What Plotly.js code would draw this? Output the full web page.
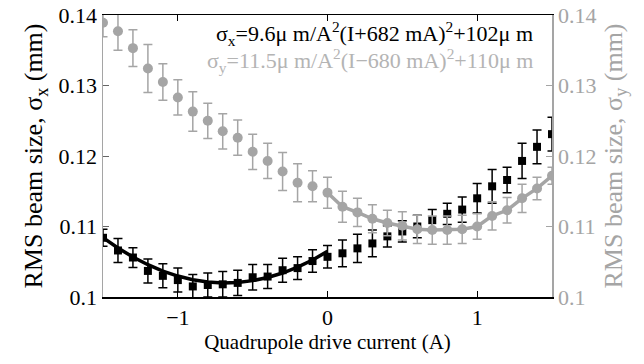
<!DOCTYPE html>
<html><head><meta charset="utf-8">
<script src="https://cdn.plot.ly/plotly-3.0.1.min.js"></script>
</head><body style="margin:0;background:#fff"><div id="chart"></div>
<script>
var currentA = [-1.5,-1.4,-1.3,-1.2,-1.1,-1.0,-0.9,-0.8,-0.7,-0.6,-0.5,-0.4,-0.3,-0.2,-0.1,0.0,0.1,0.2,0.3,0.4,0.5,0.6,0.7,0.8,0.9,1.0,1.1,1.2,1.3,1.4,1.5];
var sigmaX = [0.1084,0.1066,0.1056,0.1037,0.1030,0.1024,0.1015,0.1017,0.1018,0.1020,0.1028,0.1029,0.1038,0.1041,0.1051,0.1057,0.1062,0.1069,0.1076,0.1086,0.1093,0.1100,0.1109,0.1118,0.1124,0.1140,0.1157,0.1166,0.1193,0.1213,0.1231];
var sigmaXErr = [0.0012,0.0017,0.0014,0.0017,0.0017,0.0017,0.0017,0.0017,0.0018,0.0018,0.0018,0.0017,0.0017,0.0016,0.0016,0.0016,0.0019,0.0020,0.0019,0.0015,0.0015,0.0016,0.0015,0.0015,0.0018,0.0021,0.0024,0.0018,0.0025,0.0024,0.0024];
var sigmaY = [0.1389,0.1377,0.1353,0.1324,0.1305,0.1283,0.1263,0.1250,0.1235,0.1226,0.1206,0.1193,0.1178,0.1162,0.1157,0.1148,0.1128,0.1120,0.1111,0.1105,0.1101,0.1096,0.1095,0.1095,0.1096,0.1100,0.1115,0.1123,0.1140,0.1154,0.1172];
var sigmaYErr = [0.0020,0.0027,0.0026,0.0034,0.0026,0.0025,0.0028,0.0025,0.0025,0.0025,0.0025,0.0025,0.0027,0.0027,0.0022,0.0022,0.0022,0.0020,0.0020,0.0018,0.0020,0.0020,0.0020,0.0020,0.0020,0.0018,0.0020,0.0018,0.0020,0.0016,0.0012];
var fitXCurrent = [-1.5,-1.4,-1.3,-1.2,-1.1,-1.0,-0.9,-0.8,-0.7,-0.6,-0.5,-0.4,-0.3,-0.2,-0.1,0.0];
var fitXSigma = [0.10842,0.10695,0.10567,0.10458,0.10368,0.10297,0.10246,0.10213,0.10200,0.10206,0.10232,0.10276,0.10340,0.10423,0.10525,0.10647];
var yTickVals = [0.1,0.11,0.12,0.13,0.14];
var yTickLabels = ['0.1','0.11','0.12','0.13','0.14'];
var xTickVals = [-1,0,1];
var xTickLabels = ['\u22121','0','1'];

var grey = 'rgb(165,165,165)';
var serif = 'Liberation Serif';
var greyStart = currentA.indexOf(0.0);

Plotly.newPlot('chart', [
  {x: fitXCurrent, y: fitXSigma, mode:'lines', line:{color:'#000', width:3.5}, showlegend:false},
  {x: currentA, y: sigmaX, mode:'markers', marker:{symbol:'square', size:8, color:'#000'},
   error_y:{type:'data', array:sigmaXErr, color:'#000', thickness:1.5, width:4.5}, showlegend:false},
  {x: currentA.slice(greyStart), y: sigmaY.slice(greyStart), mode:'lines', line:{color:grey, width:3.5}, yaxis:'y2', showlegend:false},
  {x: currentA, y: sigmaY, mode:'markers', yaxis:'y2', marker:{symbol:'circle', size:10, color:grey},
   error_y:{type:'data', array:sigmaYErr, color:grey, thickness:1.5, width:4.5}, showlegend:false}
], {
  width:644, height:364,
  margin:{l:103, r:92, t:15, b:67},
  font:{family:serif, size:22, color:'#000'},
  showlegend:false,
  xaxis:{range:[-1.5,1.5], tickvals:xTickVals, ticktext:xTickLabels, ticks:'inside', ticklen:6, tickcolor:'#000',
    showline:true, linecolor:'#000', linewidth:1.5, mirror:'ticks', showgrid:false, zeroline:false,
    title:{text:'Quadrupole drive current (A)', font:{size:21}, standoff:4}},
  yaxis:{range:[0.1,0.14], tickvals:yTickVals, ticktext:yTickLabels, ticks:'inside', ticklen:6, tickcolor:'#666',
    showline:true, linecolor:grey, linewidth:1.5, showgrid:false, zeroline:false,
    title:{text:'RMS beam size, \u03c3<sub>x</sub> (mm)', standoff:8}},
  yaxis2:{range:[0.1,0.14], overlaying:'y', side:'right', tickvals:yTickVals, ticktext:yTickLabels, ticks:'inside', ticklen:6, tickcolor:grey,
    showline:true, linecolor:grey, linewidth:1.5, showgrid:false, zeroline:false,
    tickfont:{color:grey},
    title:{text:'RMS beam size, \u03c3<sub>y</sub> (mm)', font:{color:grey}, standoff:8}},
  annotations:[
    {xref:'paper', yref:'paper', x:0.963, y:0.935, xanchor:'right', yanchor:'middle', showarrow:false,
     text:'\u03c3<sub>x</sub>=9.6\u03bc m/A<sup>2</sup>(I+682 mA)<sup>2</sup>+102\u03bc m', font:{family:serif, size:22, color:'#000'}},
    {xref:'paper', yref:'paper', x:0.963, y:0.84, xanchor:'right', yanchor:'middle', showarrow:false,
     text:'\u03c3<sub>y</sub>=11.5\u03bc m/A<sup>2</sup>(I\u2212680 mA)<sup>2</sup>+110\u03bc m', font:{family:serif, size:22, color:'rgb(180,180,180)'}}
  ]
}, {staticPlot:true});
</script></body></html>
